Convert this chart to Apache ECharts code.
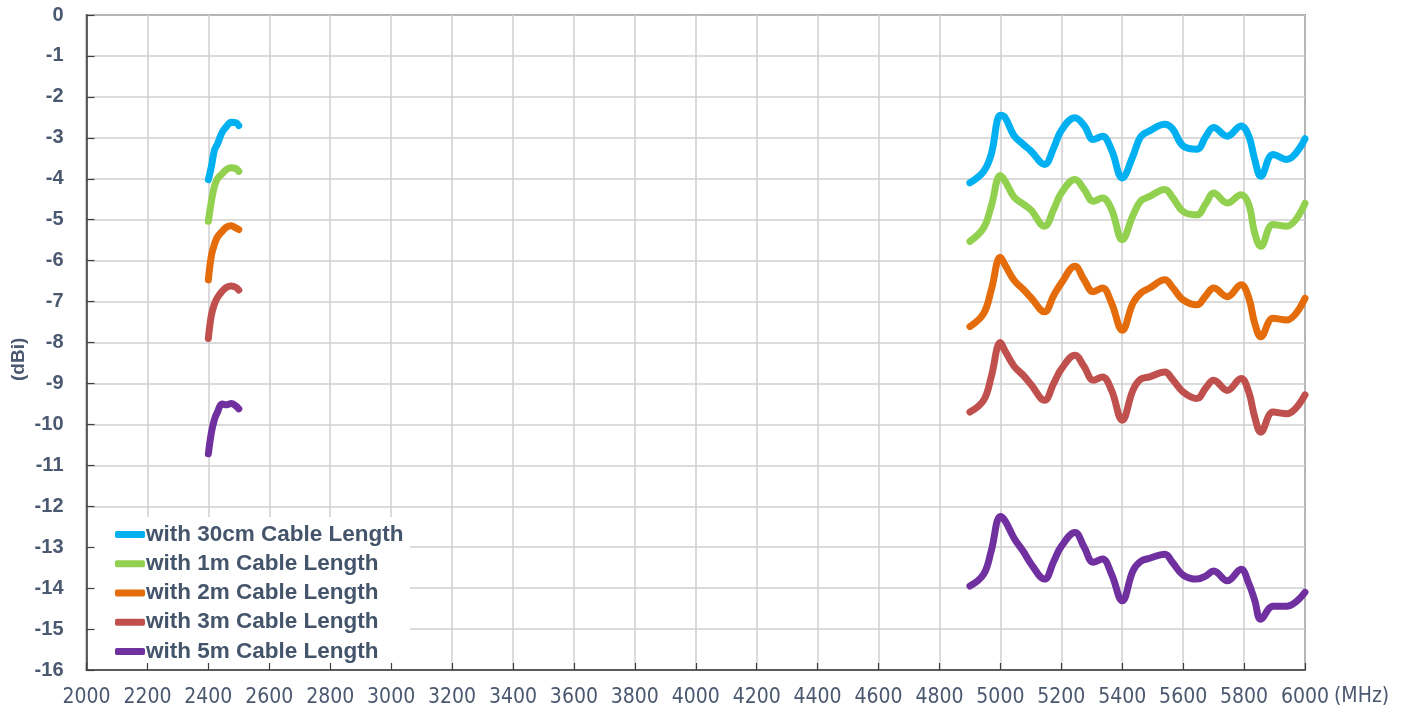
<!DOCTYPE html>
<html>
<head>
<meta charset="utf-8">
<script src="https://cdn.jsdelivr.net/npm/echarts@6/dist/echarts.min.js"></script>
<style>
html,body{margin:0;padding:0;background:#fff;}
#chart{width:1403px;height:715px;}
</style>
</head>
<body>
<div id="chart"></div>
<script>
// ---- data ----
const seriesNames = ['with 30cm Cable Length','with 1m Cable Length','with 2m Cable Length','with 3m Cable Length','with 5m Cable Length'];
const xTicks = [2000,2200,2400,2600,2800,3000,3200,3400,3600,3800,4000,4200,4400,4600,4800,5000,5200,5400,5600,5800,6000];
const yTicks = [0,-1,-2,-3,-4,-5,-6,-7,-8,-9,-10,-11,-12,-13,-14,-15,-16];

const freq24 = [2400, 2410, 2420, 2430, 2445, 2460, 2475, 2490, 2500];
const freq5 = [4900, 4945, 4970, 5000, 5015, 5045, 5075, 5100, 5145, 5175, 5200, 5245, 5275, 5305, 5335, 5365, 5400, 5435, 5460, 5490, 5540, 5565, 5600, 5645, 5675, 5700, 5745, 5790, 5815, 5835, 5855, 5895, 5940, 6000];

const cm30_24 = [-4.02, -3.70, -3.30, -3.15, -2.87, -2.72, -2.62, -2.63, -2.70];
const m1_24   = [-5.04, -4.55, -4.18, -4.00, -3.88, -3.77, -3.73, -3.75, -3.82];
const m2_24   = [-6.47, -5.88, -5.60, -5.42, -5.29, -5.18, -5.15, -5.20, -5.24];
const m3_24   = [-7.90, -7.33, -7.06, -6.90, -6.75, -6.65, -6.62, -6.65, -6.72];
const m5_24   = [-10.72, -10.20, -9.88, -9.70, -9.50, -9.52, -9.49, -9.55, -9.62];

const cm30_5 = [-4.10, -3.82, -3.40, -2.45, -2.50, -2.95, -3.16, -3.32, -3.65, -3.25, -2.82, -2.51, -2.70, -3.04, -2.96, -3.30, -3.98, -3.45, -2.98, -2.83, -2.67, -2.78, -3.20, -3.28, -2.96, -2.75, -2.96, -2.71, -2.95, -3.53, -3.94, -3.41, -3.53, -3.02];
const m1_5   = [-5.53, -5.20, -4.67, -3.92, -4.05, -4.45, -4.62, -4.76, -5.16, -4.75, -4.35, -4.02, -4.26, -4.55, -4.47, -4.75, -5.49, -4.90, -4.55, -4.43, -4.26, -4.45, -4.80, -4.88, -4.60, -4.35, -4.59, -4.39, -4.62, -5.33, -5.65, -5.12, -5.16, -4.60];
const m2_5   = [-7.61, -7.29, -6.72, -5.92, -6.10, -6.48, -6.70, -6.90, -7.25, -6.85, -6.55, -6.14, -6.47, -6.76, -6.67, -7.04, -7.70, -7.04, -6.80, -6.67, -6.47, -6.65, -6.96, -7.08, -6.85, -6.67, -6.88, -6.59, -6.90, -7.53, -7.86, -7.41, -7.45, -6.92];
const m3_5   = [-9.70, -9.41, -8.84, -8.00, -8.20, -8.58, -8.80, -9.02, -9.41, -9.00, -8.65, -8.31, -8.59, -8.92, -8.84, -9.17, -9.90, -9.17, -8.90, -8.84, -8.72, -8.90, -9.21, -9.37, -9.10, -8.92, -9.17, -8.88, -9.20, -9.82, -10.19, -9.70, -9.74, -9.28];
const m5_5   = [-13.95, -13.66, -13.09, -12.25, -12.35, -12.78, -13.10, -13.40, -13.78, -13.35, -12.98, -12.64, -13.00, -13.37, -13.29, -13.66, -14.31, -13.58, -13.35, -13.27, -13.17, -13.37, -13.68, -13.78, -13.70, -13.58, -13.82, -13.54, -13.88, -14.30, -14.76, -14.44, -14.44, -14.10];

const colors = ['#00B0F0', '#92D050', '#E46C0A', '#C0504D', '#7030A0'];
const bands24 = [cm30_24, m1_24, m2_24, m3_24, m5_24];
const bands5 = [cm30_5, m1_5, m2_5, m3_5, m5_5];

function build(v24, v5) {
  const a = freq24.map((f, i) => [f, v24[i]]);
  a.push([3700, '-']);
  return a.concat(freq5.map((f, i) => [f, v5[i]]));
}

const labelColor = '#4A5870';
const axisDark = '#3F3F3F';
const narrow = '"Liberation Sans Narrow","Arial Narrow","DejaVu Sans Condensed",sans-serif';
const chart = echarts.init(document.getElementById('chart'), null, {renderer: 'canvas'});

const option = {
  animation: false,
  backgroundColor: '#ffffff',
  grid: {left: 86.5, right: 98, top: 15, bottom: 45, show: true, borderColor: axisDark, borderWidth: 1.5, backgroundColor: 'transparent'},
  xAxis: [
    {type: 'value', min: 2000, max: 6000, interval: 200, position: 'bottom', z: 0,
     axisLine: {show: false}, axisTick: {show: false}, axisLabel: {show: false},
     splitLine: {show: true, lineStyle: {color: '#CFCFCF', width: 1.5}}},
    {type: 'value', min: 2000, max: 6000, interval: 200, position: 'bottom', z: 5,
     axisLine: {show: true, onZero: false, lineStyle: {color: axisDark, width: 1.5}},
     axisTick: {show: true, inside: true, length: 7, lineStyle: {color: axisDark, width: 1.2}},
     splitLine: {show: false},
     axisLabel: {show: true, margin: 17, color: labelColor, fontSize: 21, fontFamily: narrow,
       formatter: v => xTicks.includes(v) ? String(v) : ''}}
  ],
  yAxis: [
    {type: 'value', min: -16, max: 0, interval: 1, z: 0,
     axisLine: {show: false}, axisTick: {show: false}, axisLabel: {show: false},
     splitLine: {show: true, lineStyle: {color: '#CFCFCF', width: 1.5}}},
    {type: 'value', min: -16, max: 0, interval: 1, position: 'left', z: 5,
     axisLine: {show: true, onZero: false, lineStyle: {color: axisDark, width: 1.5}},
     axisTick: {show: true, inside: true, length: 8, lineStyle: {color: axisDark, width: 1.2}},
     splitLine: {show: false},
     axisLabel: {show: true, margin: 23, color: labelColor, fontSize: 20, fontWeight: 'bold', fontFamily: '"Liberation Sans",Arial,sans-serif',
       formatter: v => yTicks.includes(v) ? String(v) : ''}}
  ],
  legend: {
    show: true, orient: 'vertical', left: 115, top: 520, z: 4,
    padding: 0, itemGap: 0, itemWidth: 30, itemHeight: 7, icon: 'roundRect',
    textStyle: {color: '#44546A', fontSize: 22.5, fontWeight: 'bold', fontFamily: '"Liberation Sans",Arial,sans-serif', lineHeight: 29.2, height: 29.2, padding: [0,0,0,-4]},
    data: seriesNames
  },
  graphic: [
    {type: 'rect', left: 88, top: 517, shape: {width: 322, height: 152}, style: {fill: '#ffffff'}, z: 1},
    {type: 'text', left: 1334, top: 686, style: {text: '(MHz)', fill: labelColor, font: '21px ' + narrow}, z: 5},
    {type: 'text', x: 9, y: 381, rotation: Math.PI / 2, style: {text: '(dBi)', fill: labelColor, font: 'bold 19px "Liberation Sans",Arial,sans-serif'}, z: 5}
  ],
  series: seriesNames.map((name, i) => ({
    name: name, type: 'line', xAxisIndex: 0, yAxisIndex: 0, z: 3,
    data: build(bands24[i], bands5[i]),
    smooth: 0.4, connectNulls: false, showSymbol: false, symbol: 'none',
    color: colors[i],
    lineStyle: {color: colors[i], width: 7, cap: 'round', join: 'round'}
  }))
};
chart.setOption(option);
</script>
</body>
</html>
